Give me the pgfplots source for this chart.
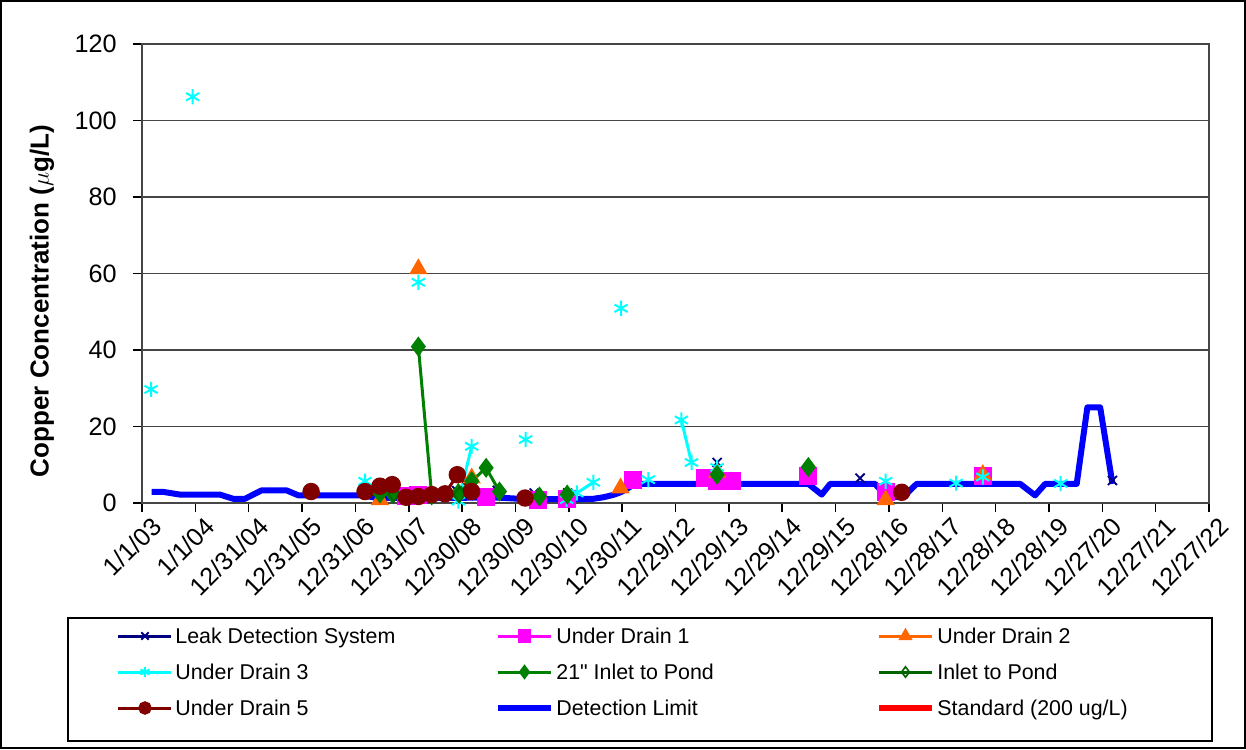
\documentclass[border=0pt]{standalone}
\usepackage{fontspec}
\setmainfont{Liberation Sans}[Ligatures=TeXOff]
\usepackage{pgfplots}
\pgfplotsset{compat=1.18}
\definecolor{navyc}{RGB}{0,0,128}
\definecolor{magc}{RGB}{255,0,255}
\definecolor{orgc}{RGB}{255,102,0}
\definecolor{cyanc}{RGB}{0,255,255}
\definecolor{grnc}{RGB}{0,128,0}
\definecolor{dgrnc}{RGB}{0,100,0}
\definecolor{dredc}{RGB}{128,0,0}
\definecolor{bluec}{RGB}{0,0,255}
\definecolor{redc}{RGB}{255,0,0}
\definecolor{gridc}{RGB}{70,70,70}
\newcommand{\lt}[1]{\makebox[161pt][l]{\hspace{1.2pt}#1}}
\newcommand{\ltc}[1]{\makebox[113.5pt][l]{\hspace{1.2pt}#1}}
\begin{document}
\begin{tikzpicture}
\path[use as bounding box] (-71pt,-123pt) rectangle (552pt,251.5pt);
\begin{axis}[
  scale only axis, width=533.5pt, height=229.5pt,
  xmin=0, xmax=20, ymin=0, ymax=120,
  xtick={0,...,20},
  xticklabels={1/1/03,1/1/04,12/31/04,12/31/05,12/31/06,12/31/07,12/30/08,12/30/09,12/30/10,12/30/11,12/29/12,12/29/13,12/29/14,12/29/15,12/28/16,12/28/17,12/28/18,12/28/19,12/27/20,12/27/21,12/27/22},
  ytick={0,20,...,120},
  ymajorgrids, grid style={gridc, line width=0.75pt},
  axis line style={gridc, line width=0.75pt},
  tick style={black, line width=0.75pt},
  tick align=outside, major tick length=4.5pt, tick pos=left,
  /pgf/number format/assume math mode=true,
  tick label style={font=\fontsize{12.6}{14}\selectfont},
  xticklabel style={rotate=45, anchor=north east, inner sep=0pt, xshift=2pt, yshift=-4pt},
  yticklabel style={anchor=east, inner sep=0pt, xshift=-8pt},
  ylabel={Copper Concentration ($\mu$g/L)},
  ylabel style={at={(axis description cs:-0.0937,0.44)}, anchor=center, font=\fontsize{13}{15}\selectfont\bfseries},
  unbounded coords=jump, clip=false,
  legend style={at={(axis description cs:-0.02343,-0.25054)}, anchor=north west, draw=none, fill=none, inner sep=0pt, outer sep=0pt, legend columns=3, row sep=0pt, column sep=0pt, font=\fontsize{10.7}{12}\selectfont, nodes={inner sep=0pt, text height=12.9pt, text depth=5.1pt}},
  legend cell align=left,
  legend image code/.code={\draw[mark repeat=2,mark phase=2,#1, mark size=2.6pt] plot coordinates {(0pt,0pt)(13.25pt,0pt)(26.5pt,0pt)};},
]
% Leak Detection System
\addplot[navyc, line width=1.5pt, mark=x, mark size=3.2pt, mark options={solid, line width=0.9pt}] table[x=x,y=y] {
x y
5.90 3.2
nan nan
6.00 3.2
nan nan
6.66 3.3
nan nan
7.35 2.6
nan nan
7.98 2.6
nan nan
10.78 10.6
nan nan
13.46 6.5
nan nan
18.19 5.9
};
\addlegendentry{\lt{Leak Detection System}}
% Under Drain 1
\addplot[magc, line width=1.5pt, mark=square*, mark size=3.75pt, mark options={solid}] table[x=x,y=y] {
x y
4.95 1.8
5.18 2.0
nan nan
6.45 1.5
nan nan
7.43 0.9
nan nan
7.96 1.0
nan nan
9.21 6.1
nan nan
10.55 6.5
10.77 5.7
11.05 5.7
nan nan
12.49 7.0
nan nan
13.94 3.0
nan nan
15.76 7.0
};
\addlegendentry{\lt{Under Drain 1}}
% Under Drain 2
\addplot[orgc, line width=1.5pt, mark=triangle*, mark size=3.8pt, mark options={solid}] table[x=x,y=y] {
x y
4.46 0.8
nan nan
5.18 61.2
nan nan
6.18 6.5
nan nan
8.97 3.9
nan nan
10.78 8.0
nan nan
13.94 0.8
nan nan
15.76 7.4
};
\addlegendentry{\ltc{Under Drain 2}}
% Under Drain 3
\addplot[cyanc, line width=1.5pt, mark=asterisk, mark size=3.8pt, mark options={solid, line width=1pt}] table[x=x,y=y] {
x y
0.17 29.7
nan nan
0.95 106.2
nan nan
4.18 5.7
nan nan
5.18 57.7
nan nan
5.93 0.5
6.18 14.8
nan nan
7.19 16.6
nan nan
7.96 0.9
8.15 2.6
8.46 5.4
nan nan
8.98 50.9
nan nan
9.49 6.1
nan nan
10.11 21.7
10.30 10.6
nan nan
10.78 9.3
nan nan
13.94 5.7
nan nan
15.26 5.2
nan nan
15.76 6.8
nan nan
17.22 5.1
};
\addlegendentry{\lt{Under Drain 3}}
% 21" Inlet to Pond
\addplot[grnc, line width=1.5pt, mark=diamond*, mark size=3.8pt, mark options={solid}] table[x=x,y=y] {
x y
4.46 2.5
4.69 2.5
nan nan
5.18 40.9
5.43 2.0
5.93 2.6
6.18 5.7
6.45 9.2
6.70 3.0
nan nan
7.45 1.7
nan nan
7.97 2.2
nan nan
10.78 7.4
nan nan
12.49 9.4
};
\addlegendentry{\lt{21" Inlet to Pond}}
% Inlet to Pond
\addplot[dgrnc, line width=1.5pt, mark=diamond, mark size=3.8pt, mark options={solid, fill=white, line width=0.8pt}] table[x=x,y=y] {
x y
4.72 2.4
nan nan
5.95 2.2
};
\addlegendentry{\ltc{Inlet to Pond}}
% Under Drain 5
\addplot[dredc, line width=1.5pt, mark=*, mark size=3.6pt, mark options={solid}] table[x=x,y=y] {
x y
3.17 3.0
nan nan
4.18 3.0
4.46 4.4
4.69 4.8
4.95 1.5
5.18 1.7
5.43 2.2
5.68 2.4
5.91 7.4
6.18 3.0
nan nan
7.18 1.3
nan nan
14.24 2.8
};
\addlegendentry{\lt{Under Drain 5}}
% Detection Limit
\addplot[bluec, line width=3pt, line join=round, no marks] table[x=x,y=y] {
x y
0.18 2.9
0.40 2.9
0.71 2.2
1.46 2.2
1.71 1.1
1.93 1.1
2.24 3.3
2.71 3.3
2.93 2.0
4.15 2.0
4.40 1.3
6.70 1.4
7.20 1.0
8.10 1.0
8.46 1.1
8.65 1.5
8.83 2.1
8.97 2.8
9.08 3.6
9.21 4.8
9.30 5.0
12.49 5.0
12.74 2.2
12.90 5.0
13.74 5.0
13.96 1.6
14.27 1.6
14.52 5.0
16.46 5.0
16.74 2.0
16.93 5.0
17.52 5.0
17.72 25.0
17.96 25.0
18.19 5.0
};
\addlegendentry{\lt{Detection Limit}}
\addlegendimage{redc, line width=3pt}
\addlegendentry{\ltc{Standard (200 ug/L)}}
\end{axis}
\draw[black, line width=0.75pt] (-37pt,-57.5pt) rectangle (535pt,-119pt);
\draw[black, line width=1pt] (-70.25pt,-122.25pt) rectangle (551.25pt,250.75pt);
\end{tikzpicture}
\end{document}
